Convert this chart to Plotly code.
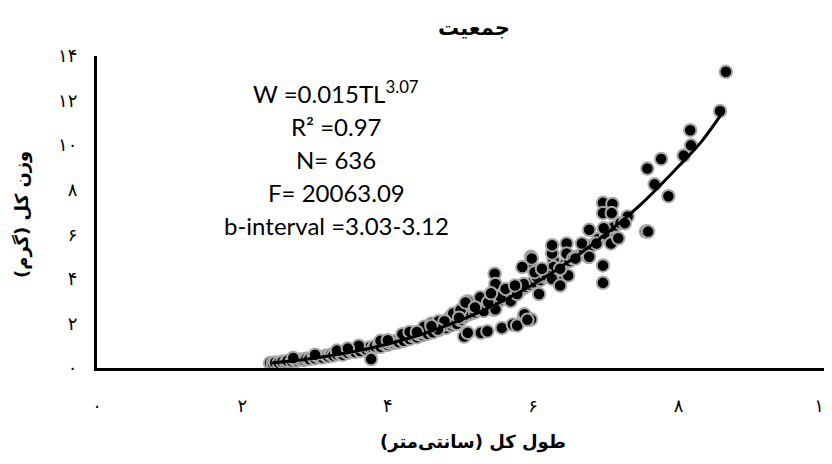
import plotly.graph_objects as go

# ---- data ----
TL = [
    2.38, 2.42, 2.45, 2.50, 2.55, 2.60, 2.62, 2.68, 2.72, 2.75, 2.80, 2.85, 2.88, 2.92, 2.98,
    3.00, 3.05, 3.10, 3.15, 3.18, 3.22, 3.25, 3.30, 3.35, 3.38, 3.42, 3.45, 3.50, 3.55, 3.60,
    3.62, 3.68, 3.70, 3.75, 3.80, 3.82, 3.88, 3.90, 3.95, 4.00, 4.02, 4.08, 4.10, 4.15, 4.20,
    4.22, 4.28, 4.30, 4.35, 4.40, 4.42, 4.48, 4.50, 4.55, 4.60, 4.62, 4.68, 4.70, 4.75, 4.80,
    4.82, 4.88, 4.90, 4.95, 5.00,
    3.30, 3.60, 3.90, 4.20, 4.30, 4.50, 4.60, 4.70, 4.85, 3.00, 2.70, 3.45, 4.00,
    3.77,
    5.05, 5.10, 5.15, 5.20, 5.25, 5.30, 5.35, 5.40, 5.45, 5.50, 5.55, 5.60, 5.65, 5.70, 5.75,
    5.80, 5.85, 5.90, 5.95, 6.00, 6.10, 6.15, 6.20, 6.30, 6.40, 6.50, 6.60, 6.70, 6.80, 6.90,
    7.00, 7.10, 7.20, 7.30,
    4.90, 5.00, 5.15, 5.10, 5.28, 5.46, 5.69, 5.47, 5.48, 5.27, 5.32, 5.48, 4.98, 4.78,
    5.66, 5.78, 5.96, 5.87, 6.08, 5.07, 5.46,
    5.05, 5.10, 5.28, 5.37, 5.57, 5.72, 5.78, 5.88, 5.97, 5.92, 4.69,
    5.97, 5.97, 5.85, 6.28, 6.37, 5.87, 6.05, 6.26, 6.46, 6.26, 6.46, 6.76, 6.55, 5.98,
    6.28, 6.48, 6.37, 6.19, 6.26, 6.77, 6.67, 6.87, 6.58, 6.37,
    6.96, 7.09, 6.96, 7.08, 7.26, 7.14, 7.07, 6.97, 6.77, 6.96, 6.96, 7.17,
    7.55, 7.58, 7.57, 7.67, 7.76, 7.86, 8.07, 8.16, 8.17, 8.57, 8.65,
    5.20, 5.38, 5.55, 5.62, 5.75, 6.02, 6.12, 5.42, 4.60, 4.40,
]
W = [
    0.22, 0.20, 0.25, 0.23, 0.28, 0.26, 0.32, 0.30, 0.36, 0.33, 0.38, 0.36, 0.42, 0.40, 0.47,
    0.44, 0.50, 0.47, 0.55, 0.52, 0.60, 0.56, 0.62, 0.66, 0.60, 0.72, 0.68, 0.75, 0.72, 0.82,
    0.76, 0.88, 0.84, 0.92, 0.88, 0.98, 1.02, 0.95, 1.08, 1.04, 1.14, 1.12, 1.20, 1.16, 1.28,
    1.22, 1.36, 1.30, 1.42, 1.38, 1.52, 1.48, 1.58, 1.54, 1.68, 1.60, 1.76, 1.70, 1.85, 1.80,
    1.95, 1.92, 2.02, 1.98, 2.15,
    0.78, 1.00, 1.22, 1.52, 1.62, 1.85, 2.00, 2.10, 2.25, 0.60, 0.45, 0.88, 1.25,
    0.40,
    2.30, 2.40, 2.45, 2.50, 2.60, 2.70, 2.75, 2.85, 2.90, 3.00, 3.05, 3.15, 3.25, 3.30, 3.40,
    3.50, 3.55, 3.65, 3.75, 3.85, 3.95, 4.10, 4.20, 4.35, 4.60, 4.80, 5.00, 5.30, 5.50, 5.80,
    6.00, 6.30, 6.50, 6.80,
    2.45, 2.60, 2.80, 3.00, 3.14, 2.61, 3.00, 4.23, 3.77, 3.17, 2.56, 2.64, 2.26, 2.10,
    3.47, 3.32, 2.18, 2.33, 3.32, 2.94, 3.09,
    1.41, 1.58, 1.58, 1.65, 1.80, 1.95, 1.91, 2.41, 2.18, 2.16, 1.73,
    4.99, 4.53, 4.53, 4.83, 3.85, 3.77, 4.08, 5.14, 5.59, 5.51, 5.14, 4.99, 4.91, 4.91,
    4.53, 4.15, 4.45, 4.15, 4.00, 6.20, 5.59, 5.59, 4.91, 3.70,
    7.41, 7.36, 6.95, 6.95, 6.50, 5.85, 5.59, 6.27, 4.99, 4.60, 3.82, 5.82,
    6.12, 6.12, 8.95, 8.24, 9.38, 7.71, 9.53, 10.67, 9.99, 11.53, 13.29,
    2.72, 2.95, 3.20, 3.55, 3.70, 4.30, 4.45, 3.35, 1.88, 1.62,
]

# trend line
TREND_TL = [2.4, 3.0, 3.5, 4.0, 4.5, 5.0, 5.5, 6.0, 6.5, 7.0, 7.5, 8.0, 8.3, 8.6]
TREND_W = [0.22, 0.45, 0.72, 1.08, 1.55, 2.15, 2.88, 3.75, 4.80, 6.02, 7.40, 9.05, 10.1, 11.45]

X_TICKS = [0, 2, 4, 6, 8, 10]
X_TICK_TEXT = ["۰", "۲", "۴", "۶", "۸", "۱۰"]
Y_TICKS = [0, 2, 4, 6, 8, 10, 12, 14]
Y_TICK_TEXT = ["۰", "۲", "۴", "۶", "۸", "۱۰", "۱۲", "۱۴"]

TITLE = "جمعیت"
X_TITLE = "طول کل (سانتی‌متر)"
Y_TITLE = "وزن کل (گرم)"
STATS = [
    "W =0.015TL<sup>3.07</sup>",
    "R² =0.97",
    "N= 636",
    "F= 20063.09",
    "b-interval =3.03-3.12",
]

FA_FONT = "DejaVu Sans"
EN_FONT = "Lato"

# page body adds an 8px offset; figure is sized to fit the window
OFF = 8
FIG_W, FIG_H = 832 - OFF, 464 - OFF
PL, PT, PR, PB = 97, 56, 824, 368          # plot area in window pixels
ML, MT = PL - OFF, PT - OFF
MR, MB = 832 - PR, 464 - PB
PW, PH = PR - PL, PB - PT


def px(xp):
    return (xp - PL) / PW


def py(yp):
    return (PB - yp) / PH


fig = go.Figure()
fig.add_trace(go.Scatter(
    x=TL, y=W, mode="markers",
    marker=dict(size=12.5, color="black", line=dict(color="#a8a8a8", width=2)),
    showlegend=False, hoverinfo="skip",
))
fig.add_trace(go.Scatter(
    x=TREND_TL, y=TREND_W, mode="lines",
    line=dict(color="black", width=3, shape="spline"),
    showlegend=False, hoverinfo="skip",
))

fig.update_layout(
    width=FIG_W, height=FIG_H,
    margin=dict(l=ML, r=MR, t=MT, b=MB, autoexpand=False),
    paper_bgcolor="white", plot_bgcolor="white",
    showlegend=False,
    title=dict(
        text=TITLE, x=(474 - OFF) / FIG_W, xanchor="center",
        y=1 - (28 - OFF) / FIG_H, yanchor="middle", xref="container", yref="container",
        font=dict(family=FA_FONT, size=21, color="black", weight="bold"),
    ),
    xaxis=dict(
        range=[0, 10], tickvals=X_TICKS, ticktext=X_TICK_TEXT,
        showgrid=False, zeroline=False, showline=True, linecolor="black", linewidth=3,
        ticks="", ticklabelstandoff=19, ticklabeloverflow="allow",
        tickfont=dict(family=FA_FONT, size=18, color="black"),
    ),
    yaxis=dict(
        range=[0, 14], tickvals=Y_TICKS, ticktext=Y_TICK_TEXT,
        showgrid=False, zeroline=False, showline=True, linecolor="black", linewidth=3,
        ticks="", ticklabelstandoff=13, ticklabeloverflow="allow",
        tickfont=dict(family=FA_FONT, size=18, color="black"),
    ),
)

annotations = [
    dict(text=X_TITLE, x=px(473), y=py(442),
         xref="paper", yref="paper", showarrow=False, xanchor="center", yanchor="middle",
         font=dict(family=FA_FONT, size=18, color="black", weight="bold")),
    dict(text=Y_TITLE, x=px(22), y=py(215),
         xref="paper", yref="paper", showarrow=False, textangle=-90,
         xanchor="center", yanchor="middle",
         font=dict(family=FA_FONT, size=18, color="black", weight="bold")),
]
line_y = [92, 127, 159, 192, 225]
for txt, yy in zip(STATS, line_y):
    annotations.append(dict(
        text=txt, x=px(336), y=py(yy),
        xref="paper", yref="paper", showarrow=False, xanchor="center", yanchor="middle",
        font=dict(family=EN_FONT, size=24, color="black"),
    ))
fig.update_layout(annotations=annotations)

fig.write_html("out.html")
